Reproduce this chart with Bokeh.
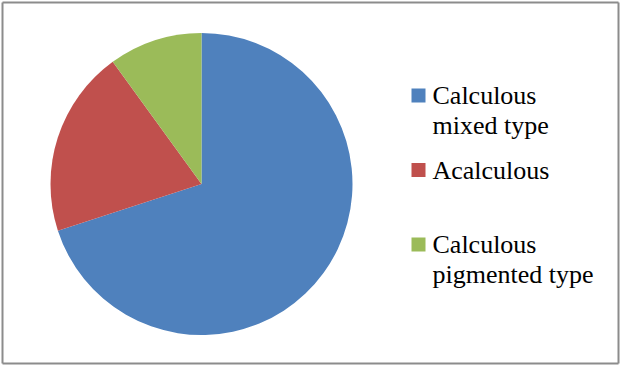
import math
from bokeh.plotting import figure
from bokeh.models import Range1d
from bokeh.core.properties import value
from bokeh.embed import file_html
from bokeh.resources import INLINE

categories = ["Calculous\nmixed type", "Acalculous", "Calculous\npigmented type"]
values = [70, 20, 10]
colors = ["#4F81BD", "#C0504D", "#9BBB59"]

W, H = 620, 365
FRAME = "#8c8c8c"

p = figure(width=W, height=H, output_backend="svg", toolbar_location=None,
           x_range=Range1d(0, W), y_range=Range1d(0, H), min_border=0)
p.axis.visible = False
p.grid.visible = False
p.outline_line_color = None

# pie
cx, cy, r = 201, H - 183.5, 151
total = sum(values)
cum = 0
starts, ends = [], []
for v in values:
    starts.append(math.radians(90 - 360 * cum / total))
    cum += v
    ends.append(math.radians(90 - 360 * cum / total))
p.wedge(x=[cx] * len(values), y=[cy] * len(values), radius=r,
        start_angle=starts, end_angle=ends, direction="clock",
        fill_color=colors, line_color=None)

# legend
base0, step, lh, shift = 103, 74.5, 30, 8
for i, (lab, col) in enumerate(zip(categories, colors)):
    b = base0 + i * step
    p.segment(x0=[411], y0=[H - (b - 8)], x1=[425], y1=[H - (b - 8)],
              line_color=col, line_width=14, line_cap="butt")
    for j, line in enumerate(lab.split("\n")):
        p.text(x=[432], y=[H - (b + j * lh - shift)], text=[line],
               text_font=value("Liberation Serif"),
               text_font_size="26px", text_baseline="alphabetic")

# frame
p.multi_line(xs=[[2, 2], [618, 618], [2, 618], [2, 618]],
             ys=[[H - 2, H - 363], [H - 2, H - 363], [H - 2, H - 2], [H - 363, H - 363]],
             line_color=FRAME, line_width=2)

open("out.html", "w").write(file_html(p, INLINE))
